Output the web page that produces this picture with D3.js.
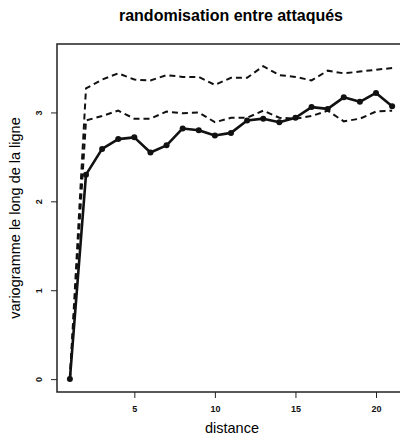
<!DOCTYPE html>
<html>
<head>
<meta charset="utf-8">
<script src="https://cdn.jsdelivr.net/npm/d3@7"></script>
<style>
  html, body { margin: 0; padding: 0; background: #fff; }
  #chart { width: 400px; height: 437px; overflow: hidden; }
</style>
</head>
<body>
<div id="chart"></div>
<script>
// distances (lags) and variogram values
const distances = d3.range(1, 22);
const observed = [0, 2.30, 2.59, 2.70, 2.72, 2.55, 2.63, 2.82, 2.80, 2.74, 2.77,
                  2.91, 2.93, 2.89, 2.94, 3.06, 3.04, 3.17, 3.12, 3.22, 3.07];
const upperEnv = [0, 3.27, 3.37, 3.44, 3.37, 3.36, 3.42, 3.40, 3.40, 3.31, 3.39,
                  3.39, 3.52, 3.42, 3.40, 3.36, 3.47, 3.44, 3.46, 3.48, 3.50];
const lowerEnv = [0, 2.91, 2.96, 3.02, 2.93, 2.93, 3.01, 2.99, 3.00, 2.89, 2.94,
                  2.94, 3.02, 2.94, 2.93, 2.96, 3.02, 2.90, 2.93, 3.01, 3.02];
const xTicks = [5, 10, 15, 20];
const yTicks = [0, 1, 2, 3];

const W = 400, H = 437;
const box = { left: 57, right: 405, top: 44, bottom: 392 };
const font = "'Liberation Sans', Arial, Helvetica, sans-serif";

const svg = d3.select("#chart").append("svg")
  .attr("width", W).attr("height", H)
  .style("font-family", font);

/* ── scales (R style 4% padding) ── */
const x = d3.scaleLinear().domain([0.2, 21.8]).range([box.left, box.right]);
const y = d3.scaleLinear().domain([-0.145, 3.77]).range([box.bottom, box.top]);

/* ── envelope lines (dashed) ── */
const line = d3.line().x((d, i) => x(distances[i])).y(d => y(d));

[upperEnv, lowerEnv].forEach(series => {
  svg.append("path")
    .datum(series)
    .attr("d", line)
    .attr("fill", "none")
    .attr("stroke", "#111")
    .attr("stroke-width", 2)
    .attr("stroke-dasharray", "6,4");
});

/* ── observed variogram ── */
svg.append("path")
  .datum(observed)
  .attr("d", line)
  .attr("fill", "none")
  .attr("stroke", "#111")
  .attr("stroke-width", 2.6)
  .attr("stroke-linejoin", "round");

svg.selectAll("circle.pt")
  .data(observed)
  .enter().append("circle")
  .attr("class", "pt")
  .attr("cx", (d, i) => x(distances[i]))
  .attr("cy", d => y(d))
  .attr("r", 3)
  .attr("fill", "#111");

/* ── axes ── */
const xAxis = svg.append("g")
  .attr("transform", `translate(0,${box.bottom})`)
  .call(d3.axisBottom(x).tickValues(xTicks).tickSize(6).tickPadding(8).tickFormat(d3.format("d")));
xAxis.select(".domain").remove();
xAxis.selectAll("text")
  .style("font-size", "9px").style("font-weight", "bold").style("font-family", font)
  .attr("fill", "#111");
xAxis.selectAll("line").attr("stroke", "#222");

const yAxis = svg.append("g")
  .attr("transform", `translate(${box.left},0)`)
  .call(d3.axisLeft(y).tickValues(yTicks).tickSize(6).tickFormat(d3.format("d")));
yAxis.select(".domain").remove();
yAxis.selectAll("line").attr("stroke", "#222");
yAxis.selectAll("text")
  .style("font-size", "9px").style("font-weight", "bold").style("font-family", font)
  .attr("fill", "#111")
  .attr("x", null).attr("dy", null)
  .attr("text-anchor", "middle")
  .attr("transform", "translate(-15,0) rotate(-90)");

/* ── box ── */
svg.append("rect")
  .attr("x", box.left).attr("y", box.top)
  .attr("width", box.right - box.left).attr("height", box.bottom - box.top)
  .attr("fill", "none")
  .attr("stroke", "#222")
  .attr("stroke-width", 1.5);

/* ── titles ── */
svg.append("text")
  .attr("x", 231).attr("y", 21)
  .attr("text-anchor", "middle")
  .style("font-size", "16px").style("font-weight", "bold")
  .text("randomisation entre attaqués");

svg.append("text")
  .attr("x", 232).attr("y", 433)
  .attr("text-anchor", "middle")
  .style("font-size", "14.5px")
  .text("distance");

svg.append("text")
  .attr("transform", "translate(20,218) rotate(-90)")
  .attr("text-anchor", "middle")
  .style("font-size", "14.5px")
  .text("variogramme le long de la ligne");
</script>
</body>
</html>
